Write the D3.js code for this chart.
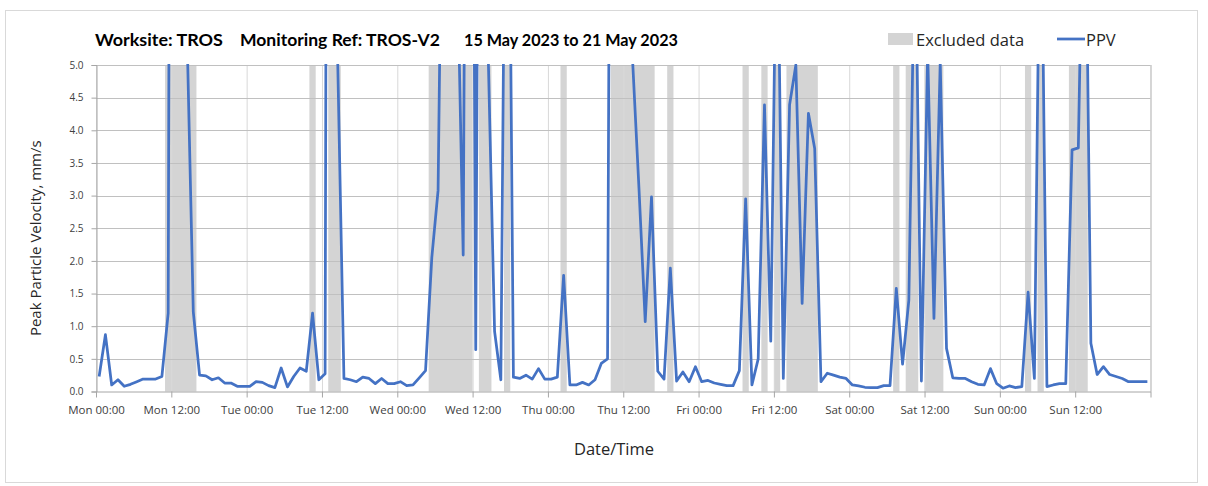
<!DOCTYPE html>
<html>
<head>
<meta charset="utf-8">
<script src="https://cdn.jsdelivr.net/npm/d3@7"></script>
<style>
  html, body { margin: 0; padding: 0; background: #ffffff; }
  svg { display: block; }
</style>
</head>
<body>
<div id="chart"></div>
<script>
// ---- Monitoring data: hourly peak particle velocity (mm/s), first reading Mon 00:30 ----
const readingStart = "2023-05-15T00:30";
const ppvValues = [
  0.23, 0.87, 0.10, 0.18, 0.08, 0.11, 0.15, 0.19, 0.19, 0.19, 0.23, 1.20,
  35, 30, 5.5, 1.22, 0.25, 0.24, 0.18, 0.21, 0.13, 0.13, 0.08, 0.08,
  0.08, 0.15, 0.14, 0.09, 0.06, 0.36, 0.07, 0.23, 0.36, 0.31, 1.20, 0.18,
  0.27, 40, 5.1, 0.20, 0.18, 0.15, 0.22, 0.20, 0.12, 0.20, 0.12, 0.12,
  0.15, 0.09, 0.10, 0.21, 0.32, 2.05, 3.08, 11, 14, 6.9, 2.09, 21,
  0.64, 21, 5.1, 0.92, 0.18, 12, 0.22, 0.20, 0.25, 0.19, 0.35, 0.19,
  0.19, 0.22, 1.78, 0.10, 0.10, 0.14, 0.10, 0.18, 0.43, 0.50, 23, 25,
  18, 5.05, 3.12, 1.07, 2.98, 0.31, 0.19, 1.89, 0.16, 0.30, 0.15, 0.38,
  0.15, 0.17, 0.13, 0.11, 0.09, 0.09, 0.32, 2.95, 0.10, 0.50, 4.39, 0.77,
  8, 0.20, 4.39, 5.0, 1.35, 4.26, 3.72, 0.15, 0.28, 0.25, 0.22, 0.20,
  0.10, 0.085, 0.065, 0.06, 0.06, 0.09, 0.09, 1.58, 0.42, 1.40, 7.3, 0.16,
  5.2, 1.12, 5.05, 0.66, 0.21, 0.20, 0.20, 0.15, 0.11, 0.10, 0.35, 0.12,
  0.05, 0.085, 0.06, 0.075, 1.52, 0.20, 8.5, 0.075, 0.10, 0.12, 0.12, 3.70,
  3.73, 9, 0.74, 0.26, 0.38, 0.26, 0.23, 0.20, 0.15, 0.15, 0.15, 0.15
];

// Periods flagged as excluded data
const excludedPeriods = [
  ["2023-05-15T11:00", "2023-05-15T16:00"],
  ["2023-05-16T10:00", "2023-05-16T11:00"],
  ["2023-05-16T13:00", "2023-05-16T15:00"],
  ["2023-05-17T05:00", "2023-05-17T12:00"],
  ["2023-05-17T13:00", "2023-05-17T15:00"],
  ["2023-05-17T17:00", "2023-05-17T18:00"],
  ["2023-05-18T02:00", "2023-05-18T03:00"],
  ["2023-05-18T10:00", "2023-05-18T17:00"],
  ["2023-05-18T19:00", "2023-05-18T20:00"],
  ["2023-05-19T07:00", "2023-05-19T08:00"],
  ["2023-05-19T10:00", "2023-05-19T11:00"],
  ["2023-05-19T12:00", "2023-05-19T13:00"],
  ["2023-05-19T14:00", "2023-05-19T19:00"],
  ["2023-05-20T07:00", "2023-05-20T08:00"],
  ["2023-05-20T09:00", "2023-05-20T11:00"],
  ["2023-05-20T12:00", "2023-05-20T15:00"],
  ["2023-05-21T04:00", "2023-05-21T05:00"],
  ["2023-05-21T06:00", "2023-05-21T07:00"],
  ["2023-05-21T11:00", "2023-05-21T14:00"]
];

const periodStart = "2023-05-15T00:00";
const periodEnd = "2023-05-22T00:00";
const xTickLabels = [
  "Mon 00:00", "Mon 12:00", "Tue 00:00", "Tue 12:00", "Wed 00:00", "Wed 12:00",
  "Thu 00:00", "Thu 12:00", "Fri 00:00", "Fri 12:00", "Sat 00:00", "Sat 12:00",
  "Sun 00:00", "Sun 12:00", ""
];
const yTickValues = [0, 0.5, 1, 1.5, 2, 2.5, 3, 3.5, 4, 4.5, 5];

const titleParts = ["Worksite: TROS", "Monitoring Ref: TROS-V2", "15 May 2023 to 21 May 2023"];
const legendLabels = ["Excluded data", "PPV"];
const yAxisTitle = "Peak Particle Velocity, mm/s";
const xAxisTitle = "Date/Time";

// ---- Layout ----
const W = 1208, H = 486;
const plot = { left: 96, right: 1150.5, top: 65, bottom: 391.5 };
const lineColor = "#4472C4";
const bandColor = "#d4d4d4";
const uiFont = "'Open Sans', 'DejaVu Sans', sans-serif";

const parseTime = d3.timeParse("%Y-%m-%dT%H:%M");
const t0 = parseTime(readingStart);
const series = ppvValues.map((v, i) => ({ time: d3.timeHour.offset(t0, i), value: v }));

const x = d3.scaleTime()
  .domain([parseTime(periodStart), parseTime(periodEnd)])
  .range([plot.left, plot.right]);
const y = d3.scaleLinear()
  .domain([0, 5])
  .range([plot.bottom, plot.top]);

const svg = d3.select("#chart").append("svg")
  .attr("width", W).attr("height", H);

svg.append("rect")
  .attr("x", 5.5).attr("y", 10.5)
  .attr("width", 1192).attr("height", 472)
  .attr("fill", "#ffffff")
  .attr("stroke", "#d9d9d9");

// Excluded-data bands
svg.append("g").selectAll("rect")
  .data(excludedPeriods)
  .join("rect")
  .attr("x", d => x(parseTime(d[0])))
  .attr("y", plot.top)
  .attr("width", d => x(parseTime(d[1])) - x(parseTime(d[0])))
  .attr("height", plot.bottom - plot.top)
  .attr("fill", bandColor);

const xTickDates = d3.timeHour.every(12).range(parseTime(periodStart), d3.timeHour.offset(parseTime(periodEnd), 1));

// Gridlines
svg.append("g")
  .selectAll("line")
  .data(xTickDates)
  .join("line")
  .attr("x1", d => x(d) + 0.5).attr("x2", d => x(d) + 0.5)
  .attr("y1", plot.top).attr("y2", plot.bottom)
  .attr("stroke", "#d9d9d9").attr("stroke-width", 1);

svg.append("g")
  .selectAll("line")
  .data(yTickValues.filter(v => v > 0))
  .join("line")
  .attr("x1", plot.left).attr("x2", plot.right)
  .attr("y1", d => Math.round(y(d)) + 0.5).attr("y2", d => Math.round(y(d)) + 0.5)
  .attr("stroke", "#c0c0c0").attr("stroke-width", 1);

// Right border of the plot area
svg.append("line")
  .attr("x1", plot.right + 0.5).attr("x2", plot.right + 0.5)
  .attr("y1", plot.top).attr("y2", plot.bottom)
  .attr("stroke", "#bfbfbf");

// Y axis
const yAxis = svg.append("g")
  .attr("transform", `translate(${plot.left + 0.5},0)`)
  .call(d3.axisLeft(y).tickValues(yTickValues).tickFormat(d3.format(".1f")).tickSize(5).tickPadding(8));
yAxis.select(".domain").attr("stroke", "#a6a6a6");
yAxis.selectAll(".tick line").attr("stroke", "#a6a6a6");
yAxis.selectAll(".tick text")
  .attr("font-family", uiFont).attr("font-size", 10).attr("fill", "#404040");

// X axis
const xAxis = svg.append("g")
  .attr("transform", `translate(0,${plot.bottom})`)
  .call(d3.axisBottom(x).tickValues(xTickDates).tickFormat((d, i) => xTickLabels[i]).tickSize(6).tickPadding(8).tickSizeOuter(0));
xAxis.select(".domain").attr("stroke", "#a6a6a6");
xAxis.selectAll(".tick line").attr("stroke", "#a6a6a6");
xAxis.selectAll(".tick text")
  .attr("font-family", uiFont).attr("font-size", 11.5).attr("fill", "#404040");

// PPV line, clipped to the plot area
svg.append("clipPath").attr("id", "plot-clip")
  .append("rect")
  .attr("x", plot.left).attr("y", plot.top - 1)
  .attr("width", plot.right - plot.left).attr("height", plot.bottom - plot.top + 2);

const line = d3.line()
  .x(d => x(d.time))
  .y(d => y(d.value));

svg.append("path")
  .datum(series)
  .attr("clip-path", "url(#plot-clip)")
  .attr("fill", "none")
  .attr("stroke", lineColor)
  .attr("stroke-width", 2.75)
  .attr("stroke-linejoin", "round")
  .attr("d", line);

// Title
const titleX = [95, 240, 464];
const titleW = [128, 200, 214];
titleParts.forEach((txt, i) => {
  const t = svg.append("text")
    .attr("x", titleX[i]).attr("y", 46)
    .attr("font-family", "Lato, 'Open Sans', sans-serif")
    .attr("font-weight", 700)
    .attr("font-size", 15.5)
    .attr("fill", "#000000")
    .text(txt);
  const natural = t.node().getComputedTextLength();
  if (natural > 0) t.attr("font-size", 15.5 * titleW[i] / natural);
});

// Legend
const legend = svg.append("g");
legend.append("rect")
  .attr("x", 888).attr("y", 33)
  .attr("width", 25).attr("height", 12)
  .attr("fill", bandColor);
legend.append("text")
  .attr("x", 916).attr("y", 45.5)
  .attr("font-family", uiFont).attr("font-size", 16.5).attr("fill", "#262626")
  .text(legendLabels[0]);
legend.append("line")
  .attr("x1", 1057).attr("x2", 1085)
  .attr("y1", 39).attr("y2", 39)
  .attr("stroke", lineColor).attr("stroke-width", 2.75);
legend.append("text")
  .attr("x", 1086).attr("y", 45.5)
  .attr("font-family", uiFont).attr("font-size", 16.5).attr("fill", "#262626")
  .text(legendLabels[1]);

// Axis titles
svg.append("text")
  .attr("transform", `translate(41,${(plot.top + plot.bottom) / 2 + 10}) rotate(-90)`)
  .attr("text-anchor", "middle")
  .attr("font-family", uiFont).attr("font-size", 15).attr("fill", "#262626")
  .text(yAxisTitle);

svg.append("text")
  .attr("x", 614).attr("y", 455)
  .attr("text-anchor", "middle")
  .attr("font-family", uiFont).attr("font-size", 16.5).attr("fill", "#262626")
  .text(xAxisTitle);
</script>
</body>
</html>
